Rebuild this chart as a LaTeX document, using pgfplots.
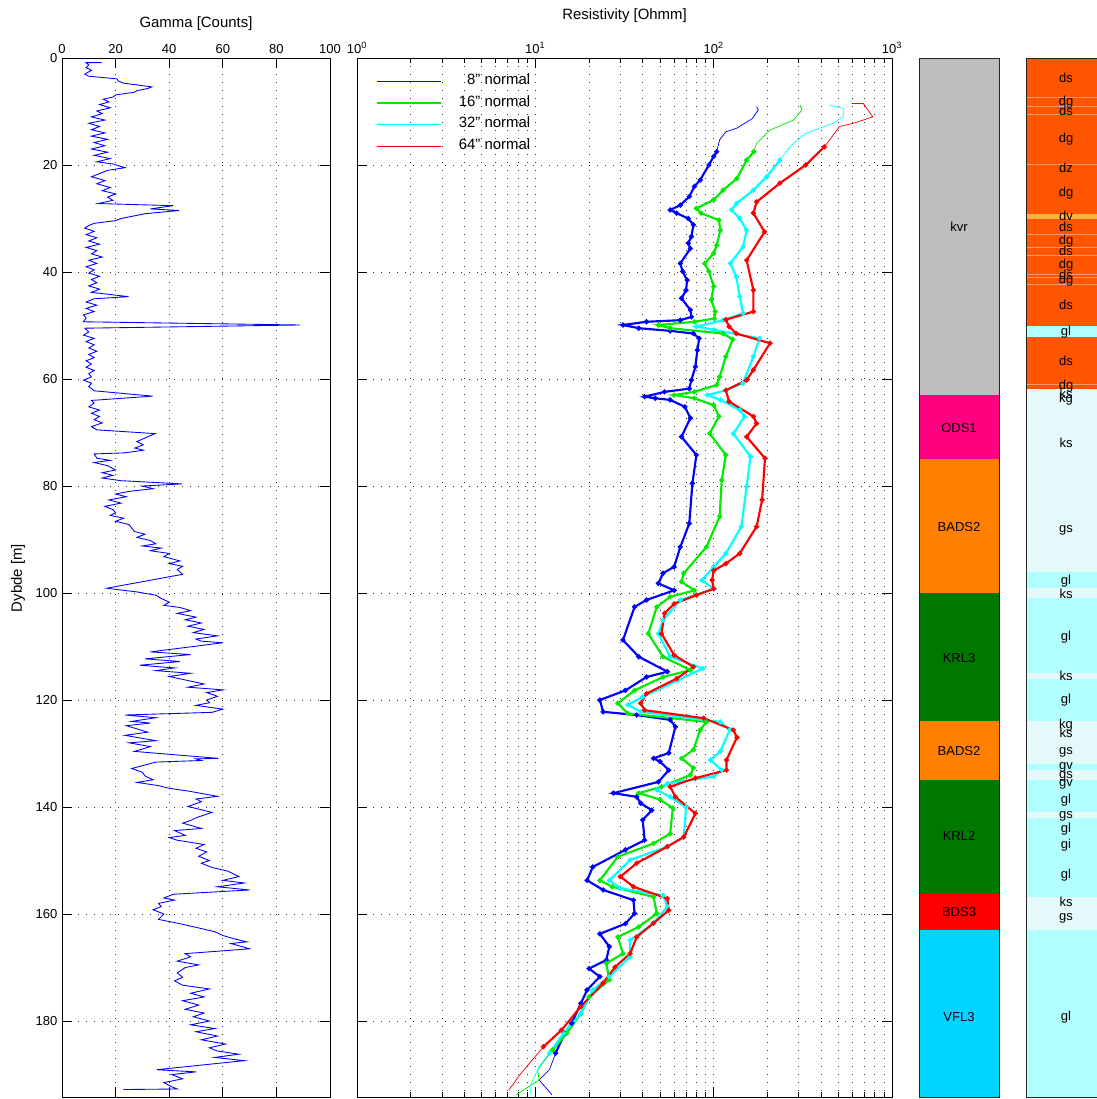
\documentclass[border=0pt]{standalone}
\usepackage{pgfplots}
\pgfplotsset{compat=1.18}
\usepackage{pgfplotstable}
\usepackage{fontspec}
\setmainfont{Liberation Sans}
\setsansfont{Liberation Sans}

\definecolor{cGrey}{RGB}{190,190,190}
\definecolor{cPink}{RGB}{255,0,128}
\definecolor{cOrange}{RGB}{255,128,0}
\definecolor{cGreen}{RGB}{0,120,0}
\definecolor{cRed}{RGB}{255,0,0}
\definecolor{cCyan}{RGB}{0,213,255}
\definecolor{dOr}{RGB}{255,85,0}
\definecolor{dOrL}{RGB}{255,150,110}
\definecolor{dV}{RGB}{255,178,60}
\definecolor{gL}{RGB}{178,255,255}
\definecolor{kL}{RGB}{228,250,250}
\definecolor{rB}{RGB}{0,0,255}
\definecolor{rG}{RGB}{0,235,0}
\definecolor{rC}{RGB}{0,255,255}
\definecolor{rR}{RGB}{255,0,0}

\newcommand{\tickfont}{\fontsize{9.75}{11}\selectfont}
\newcommand{\titlefont}{\fontsize{11.2}{13}\selectfont}
\newcommand{\qq}{\symbol{34}}
\newcommand{\band}[3]{\addplot[fill=#1,draw=none,forget plot] coordinates {(0,#2) (1,#2) (1,#3) (0,#3)} -- cycle;}
\newcommand{\sepl}[1]{\addplot[dOrL,line width=0.4pt,forget plot] coordinates {(0,#1) (1,#1)};}

\pgfplotstableread{
g d
14.8 0.87
9.0 0.87
10 1.3
9 1.8
11 2.3
8.5 3.0
10 3.4
20.5 3.9
21 4.3
23 4.7
33.5 5.4
32 5.7
28 6.1
27 6.4
20 6.9
19 7.3
15.4 7.7
17.5 8.2
14 8.7
18 9.3
13 9.9
15 10.4
11 11.0
16 11.6
10 12.2
14 12.8
11 13.4
16 14.0
11 14.6
17 15.2
12 15.8
16 16.4
11 17.0
17 17.6
12 18.2
18 18.8
13 19.4
19 19.8
23.5 20.5
17 21.0
14 21.6
11 22.2
16 22.9
13 23.5
18 24.2
15 24.8
20 25.4
17 26.0
19 26.6
13.5 27.2
41.5 27.6
33 28.2
43.7 28.5
31 29.1
27 29.5
22 30.0
20 30.4
12 30.9
10 31.3
8.5 31.8
12 32.4
9 33.0
13 33.6
10 34.2
14 34.8
9 35.4
13 36.0
11 36.6
15 37.2
10 37.8
13 38.4
9 39.0
12 39.6
10 40.2
14 40.8
11 41.4
13 42.0
10 42.6
14 43.2
11 43.8
24.8 44.6
12 45.0
9 45.6
13 46.2
9 46.8
12 47.4
8 48.0
9 48.6
8 49.3
88.8 49.9
8.6 50.5
10 51.2
8 51.8
12 52.4
9 53.0
12 53.6
10 54.2
13 54.8
10 55.4
12 56.0
9 56.6
11 57.2
9 57.8
12 58.4
10 59.0
11 59.6
8 60.2
11 60.8
10 61.4
12 62.2
33.8 63.2
11 64.0
12 64.5
10 65.2
14 65.8
11 66.4
14 67.0
12 67.6
15 68.2
11 68.9
13 69.5
34.7 70.2
27.9 71.7
30.3 72.3
27.2 72.9
30.3 73.3
23.5 73.8
12 74.0
13 74.8
18 75.2
12 75.6
17 76.2
20 77.0
15 77.5
19 78.0
15 78.5
22 79.0
44.7 79.6
30 80.0
34 80.5
25 81.0
20 81.5
24 82.0
17.5 82.6
22 83.2
16 83.8
19 84.4
20 85.0
18 85.5
23 86.0
20 86.6
25 87.2
27 88.5
31 89.0
28 89.6
33 90.2
35 90.8
30 91.2
37 91.6
33 92.1
40 92.6
38 93.2
44 94.0
40 94.5
45 95.0
43 95.6
45 96.5
16.7 99.1
28 99.8
35 100.4
37 101.0
40 101.7
38 102.3
44 102.7
48 103.3
43 103.8
50 104.5
46 105.0
52 105.6
47 106.2
53 106.8
49 107.4
58 108.0
50 108.6
52 109.0
60 109.3
33 111.0
48 111.5
31 112.3
44 112.8
29 113.5
42 114.0
35 114.5
48 115.0
40 115.6
53 117.0
47 117.6
60 118.1
54 118.6
58 119.3
54 120.0
55 120.5
50 121.0
60 121.7
56 122.3
23.5 122.8
35 123.3
26 124.0
33 124.3
24 124.8
28 125.4
32 126.0
23.5 126.6
35 127.6
25 128.0
33 128.7
27 129.6
58.3 130.9
50 131.0
52 131.3
35 131.6
26 132.8
30 133.5
31 134.2
34 134.9
28 135.4
36 136.0
40 136.5
47 137.0
58 138.0
50 138.5
52 139.0
47 139.9
56 141.0
50 142.0
48 142.5
45 143.0
52 144.0
42 144.4
46 145.3
40 145.7
43 146.2
53 147.0
50 147.7
54 148.4
51 149.2
55 150.0
52 150.5
56 151.3
62 152.0
66 153.0
60 153.7
68 154.2
58 154.9
70 155.5
41.5 156.3
38 157.0
42 157.4
36 158.0
37 158.6
34 159.2
38 160.0
36 161.0
44 161.8
51 162.6
57 163.3
60 164.0
64 164.6
69 165.2
63 165.5
70 166.5
46 167.4
48 168.0
43 168.8
51 169.5
46 170.0
43 171.0
45 171.8
42 172.5
45 173.3
55 174.0
48 174.8
53 175.5
45 176.2
51 177.0
46 177.8
53 178.5
49 179.2
55 180.0
48 180.7
57 181.4
50 182.0
58 182.8
52 183.5
61 184.3
55 185.0
58 185.6
66 186.2
57 186.8
68 187.4
35.3 189.1
50 189.5
41 190.0
45 190.8
38 191.5
41 192.3
43 192.7
22.9 192.8
}\gammatab

\pgfplotstableread{
r d
174 9.1
178 9.7
165 11.3
135 13.1
117 13.8
108 15.3
104 17.5
100 18.4
94 20.0
84 22.8
78 24.0
73 25.9
65 27.5
57 28.4
62 29.0
72 30.0
77 31.2
75 33.4
72 34.6
74 35.6
65 38.4
67 39.9
71 41.5
70 43.4
66 44.9
74 47.1
75 48.4
65 49.0
42 49.3
31 49.9
38 50.5
57 51.0
77 51.5
83 52.4
81 54.6
79 57.7
75 60.2
73 61.8
53 62.4
41 63.3
47 63.6
57 63.9
69 65.2
74 67.3
66 70.8
80 74.2
76 79.5
73 87.0
65 91.4
60 95.1
52 96.3
49 98.2
60 99.5
42 101.3
36 102.6
31 108.8
38 111.9
55 114.7
42 115.7
32 118.2
23 120.0
24 122.2
37 122.8
57 123.7
61 125.0
56 129.9
46 130.9
50 131.5
56 133.1
49 135.3
27.4 137.4
37 138.1
39 139.3
45 140.6
40 142.4
41 146.2
32 148.0
21 151.2
19.5 153.7
24 155.5
35.5 157.4
36 159.9
32 161.8
23 163.7
26 166.1
25 168.6
20 170.2
23 171.7
19.5 174.2
18 176.7
16 180.4
14.6 182.3
13 186.0
12 189.1
10.5 191.0
12.4 193.8
}\resA

\pgfplotstableread{
r d
305 8.8
313 9.7
280 11.6
206 13.5
174 16.0
168 17.5
153 19.1
135 22.5
113 24.7
100 26.5
80 28.1
85 29.0
107 30.3
109 32.2
104 35.0
100 36.5
89 38.4
94 39.9
100 42.7
97 45.2
102 47.4
101 48.7
78 49.3
49 49.9
57 50.5
113 51.5
128 52.6
117 55.8
108 59.6
104 61.1
78 62.4
60 63.0
78 63.6
100 64.9
107 67.0
95 70.2
117 74.2
111 78.9
108 85.7
91 91.4
68 96.3
66 97.9
78 99.5
57 100.7
48 102.6
43 107.6
52 111.9
74 114.4
52 115.7
36 118.2
29 120.6
33 122.5
91 124.1
84 125.6
77 129.3
66 130.9
77 132.7
74 134.0
51 136.2
38 137.4
50 138.6
59 140.2
57 145.0
46 146.8
29 149.3
23 153.7
27 154.9
46 156.8
48 159.9
38 162.4
29 164.3
31 167.4
25 169.2
26 172.3
20 175.5
18 178.6
15 182.3
12.5 185.4
10.3 189.1
10.5 191.0
7.8 193.8
}\resB

\pgfplotstableread{
r d
449 8.8
533 9.4
533 11.0
466 12.2
328 14.1
273 16.3
235 19.1
198 22.2
167 24.7
134 27.2
126 28.4
140 30.0
153 32.2
146 35.3
124 38.4
134 40.9
140 44.6
146 47.7
113 49.0
80 50.2
100 50.8
181 52.4
167 55.8
146 60.8
117 62.1
92 63.0
109 63.9
140 65.8
149 67.0
129 70.2
161 74.5
153 80.1
143 87.6
117 92.6
100 95.1
86 97.6
100 99.2
65 101.3
52 105.1
49 107.6
57 111.9
87 114.1
63 116.3
40 119.4
33 120.9
39 122.2
109 124.1
123 125.6
109 129.6
96 131.2
111 133.1
100 134.3
55 135.6
48 136.8
57 138.1
70 140.0
68 145.6
55 147.4
34 149.9
26 153.7
30 155.2
52 156.5
55 158.6
46 161.7
34 164.9
34 168.0
26 171.7
21 174.2
18 178.6
14.4 182.3
12 186.0
10.5 188.5
9.3 192.3
9.5 193.8
}\resC

\pgfplotstableread{
r d
594 8.5
690 8.5
780 11.0
607 12.2
508 12.8
418 16.6
328 20.0
235 23.4
174 26.9
167 29.0
193 32.5
153 37.8
167 43.4
167 47.4
117 48.9
122 50.2
134 51.5
207 53.3
167 58.3
153 60.2
117 62.1
122 64.2
167 67.0
174 68.3
153 70.8
194 74.8
187 82.6
174 87.6
140 92.6
117 94.5
100 95.8
98 97.6
100 99.2
80 100.4
60 102.0
53 103.8
51 107.6
60 111.6
77 113.8
62 116.0
42 118.8
39 120.6
41 121.9
88 123.4
129 125.6
135 127.0
118 131.2
118 133.1
79 134.6
57 136.2
61 138.1
79 141.2
68 145.6
55 147.4
37 150.5
30 153.0
35.5 154.9
55 157.1
56 159.3
46 161.7
37 164.3
34 167.4
28 169.9
24 172.9
18 177.3
14 181.7
11.1 184.8
8.3 189.8
7.1 192.9
}\resD

\pgfplotsset{
  common/.style={
    scale only axis, anchor=north west, height=779.25pt,
    ymin=0, ymax=194.2, y dir=reverse,
    xticklabel pos=right,
    tick align=inside,
    major tick length=7.5pt, minor tick length=3.75pt,
    every tick/.append style={black, line width=0.5pt},
    axis line style={black, line width=0.6pt},
    tick label style={font=\tickfont},
    grid style={black!80, line width=0.5pt, dash pattern=on 0.6pt off 5.4pt},
  },
  strat/.style={
    scale only axis, anchor=north west, height=779.25pt, width=60pt,
    ymin=0, ymax=194.2, y dir=reverse, xmin=0, xmax=1,
    xtick=\empty, ytick=\empty, axis on top,
    axis line style={black!85, line width=0.6pt},
  },
  thin/.style={line width=0.55pt, forget plot},
  thick/.style={line width=1.6pt, mark=*, mark size=1.0pt, restrict y to domain=16.5:186.5, forget plot},
}

\begin{document}
\begin{tikzpicture}
\useasboundingbox (0pt,0pt) rectangle (822pt,-824.25pt);

% Gamma
\begin{axis}[common, at={(46.5pt,-43.5pt)}, width=201pt,
  xmin=0, xmax=100, xtick={0,20,...,100}, ytick={0,20,...,180},
  xmajorgrids, ymajorgrids,
  /pgf/number format/assume math mode=true]
\addplot[rB, line width=0.65pt] table[x=g,y=d]{\gammatab};
\end{axis}

% Resistivity
\begin{axis}[common, at={(267.75pt,-43.5pt)}, width=401.25pt,
  xmode=log, xmin=1, xmax=1000,
  xtick={1,10,100,1000},
  xticklabels={10\textsuperscript{0},10\textsuperscript{1},10\textsuperscript{2},10\textsuperscript{3}},
  minor xtick={2,3,4,5,6,7,8,9,20,30,40,50,60,70,80,90,200,300,400,500,600,700,800,900},
  ytick={0,20,...,180}, yticklabels={},
  xmajorgrids, xminorgrids, ymajorgrids,
  legend cell align=right,
  legend image code/.code={\draw[#1] (0pt,0pt) -- (48pt,0pt);},
  legend style={at={(0,1)}, anchor=north west, xshift=14pt, yshift=-12pt,
    draw=none, fill=none, font=\titlefont, inner sep=0pt, row sep=5.1pt, column sep=13pt,
    nodes={inner sep=0pt, text height=8pt, text depth=3pt}}]
\addlegendimage{color=rB, line width=0.7pt}
\addlegendentry{8\qq{} normal}
\addlegendimage{color=rG, line width=1.2pt}
\addlegendentry{16\qq{} normal}
\addlegendimage{color=rC, line width=0.9pt}
\addlegendentry{32\qq{} normal}
\addlegendimage{color=rR, line width=0.7pt}
\addlegendentry{64\qq{} normal}
\addplot[rB, thin] table[x=r,y=d]{\resA};
\addplot[rB, thick] table[x=r,y=d]{\resA};
\addplot[rG, thin] table[x=r,y=d]{\resB};
\addplot[rG, thick] table[x=r,y=d]{\resB};
\addplot[rC, thin] table[x=r,y=d]{\resC};
\addplot[rC, thick] table[x=r,y=d]{\resC};
\addplot[rR, thin] table[x=r,y=d]{\resD};
\addplot[rR, thick] table[x=r,y=d]{\resD};
\end{axis}

% Formations
\begin{axis}[strat, at={(689.25pt,-43.5pt)}]
\band{cGrey}{0}{63}
\band{cPink}{63}{75}
\band{cOrange}{75}{100}
\band{cGreen}{100}{124}
\band{cOrange}{124}{135}
\band{cGreen}{135}{156}
\band{cRed}{156}{163}
\band{cCyan}{163}{194.2}
\begin{scope}[font=\tickfont]
\node at (axis cs:0.5,31.5) {kvr};
\node at (axis cs:0.5,69.2) {ODS1};
\node at (axis cs:0.5,87.7) {BADS2};
\node at (axis cs:0.5,112.1) {KRL3};
\node at (axis cs:0.5,129.5) {BADS2};
\node at (axis cs:0.5,145.4) {KRL2};
\node at (axis cs:0.5,159.6) {BDS3};
\node at (axis cs:0.5,179.3) {VFL3};
\end{scope}
\end{axis}

% Lithology
\begin{axis}[strat, at={(769.5pt,-43.5pt)}]
\band{dOr}{0}{61.9}
\band{dV}{29.1}{30.0}
\band{gL}{50.0}{52.1}
\band{kL}{61.9}{96.0}
\band{gL}{96.0}{99.0}
\band{kL}{99.0}{101.0}
\band{gL}{101.0}{115.0}
\band{kL}{115.0}{116.1}
\band{gL}{116.1}{123.9}
\band{kL}{123.9}{132.0}
\band{gL}{132.0}{133.0}
\band{kL}{133.0}{135.0}
\band{gL}{135.0}{141.0}
\band{kL}{141.0}{142.1}
\band{gL}{142.1}{156.9}
\band{kL}{156.9}{163.0}
\band{gL}{163.0}{194.2}
\sepl{7.4}
\sepl{9.0}
\sepl{10.6}
\sepl{19.8}
\sepl{33.0}
\sepl{35.4}
\sepl{36.8}
\sepl{40.4}
\sepl{40.9}
\sepl{42.3}
\sepl{61.0}
\begin{scope}[font=\tickfont]
\node at (axis cs:0.5,3.7) {ds};
\node at (axis cs:0.5,8.2) {dg};
\node at (axis cs:0.5,9.8) {ds};
\node at (axis cs:0.5,15.2) {dg};
\node at (axis cs:0.5,20.6) {dz};
\node at (axis cs:0.5,25.3) {dg};
\node at (axis cs:0.5,29.5) {dv};
\node at (axis cs:0.5,31.5) {ds};
\node at (axis cs:0.5,34.2) {dg};
\node at (axis cs:0.5,36.1) {ds};
\node at (axis cs:0.5,38.8) {dg};
\node at (axis cs:0.5,40.6) {ds};
\node at (axis cs:0.5,41.6) {dg};
\node at (axis cs:0.5,46.2) {ds};
\node at (axis cs:0.5,51.2) {gl};
\node at (axis cs:0.5,56.6) {ds};
\node at (axis cs:0.5,61.3) {dg};
\node at (axis cs:0.5,62.8) {ks};
\node at (axis cs:0.5,63.7) {kg};
\node at (axis cs:0.5,72.0) {ks};
\node at (axis cs:0.5,88.2) {gs};
\node at (axis cs:0.5,97.8) {gl};
\node at (axis cs:0.5,100.1) {ks};
\node at (axis cs:0.5,108.2) {gl};
\node at (axis cs:0.5,115.5) {ks};
\node at (axis cs:0.5,120.1) {gl};
\node at (axis cs:0.5,124.6) {kg};
\node at (axis cs:0.5,126.1) {ks};
\node at (axis cs:0.5,129.8) {gs};
\node at (axis cs:0.5,132.6) {gv};
\node at (axis cs:0.5,134.2) {gs};
\node at (axis cs:0.5,135.7) {gv};
\node at (axis cs:0.5,138.7) {gl};
\node at (axis cs:0.5,141.7) {gs};
\node at (axis cs:0.5,144.2) {gl};
\node at (axis cs:0.5,147.1) {gi};
\node at (axis cs:0.5,152.7) {gl};
\node at (axis cs:0.5,157.7) {ks};
\node at (axis cs:0.5,160.8) {gs};
\node at (axis cs:0.5,179.2) {gl};
\end{scope}
\end{axis}

\node[font=\titlefont] at (147pt,-18pt) {Gamma [Counts]};
\node[font=\titlefont] at (468.4pt,-12pt) {Resistivity [Ohmm]};
\node[font=\titlefont, rotate=90] at (13.5pt,-433.5pt) {Dybde [m]};
\end{tikzpicture}
\end{document}
